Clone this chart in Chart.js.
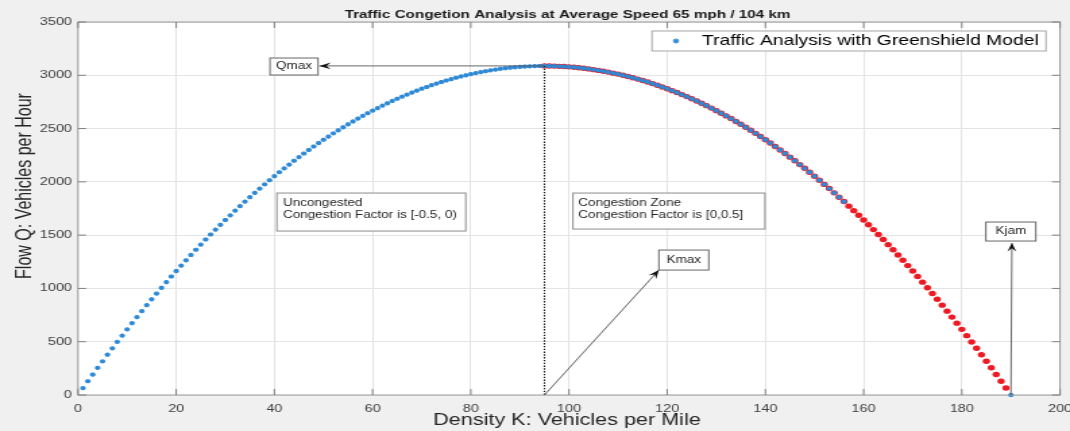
<!DOCTYPE html>
<html>
<head>
<meta charset="utf-8">
<title>Traffic Congetion Analysis</title>
<script src="https://cdn.jsdelivr.net/npm/chart.js@4.4.1/dist/chart.umd.min.js"></script>
<style>
  html, body { margin: 0; padding: 0; background: #f0f0f0; }
  #chart { display: block; }
</style>
</head>
<body>
<!-- the source figure was exported stretched sideways: draw narrow, widen with inline CSS -->
<canvas id="chart" width="793" height="431" style="width:1070px;height:431px;"></canvas>
<script>
// ============================================
// Data
// ============================================
const density = [
    1, 2, 3, 4, 5, 6, 7, 8, 9, 10, 11, 12, 13, 14, 15, 16, 17, 18, 19, 20,
    21, 22, 23, 24, 25, 26, 27, 28, 29, 30, 31, 32, 33, 34, 35, 36, 37, 38, 39, 40,
    41, 42, 43, 44, 45, 46, 47, 48, 49, 50, 51, 52, 53, 54, 55, 56, 57, 58, 59, 60,
    61, 62, 63, 64, 65, 66, 67, 68, 69, 70, 71, 72, 73, 74, 75, 76, 77, 78, 79, 80,
    81, 82, 83, 84, 85, 86, 87, 88, 89, 90, 91, 92, 93, 94, 95, 96, 97, 98, 99, 100,
    101, 102, 103, 104, 105, 106, 107, 108, 109, 110, 111, 112, 113, 114, 115, 116, 117, 118, 119, 120,
    121, 122, 123, 124, 125, 126, 127, 128, 129, 130, 131, 132, 133, 134, 135, 136, 137, 138, 139, 140,
    141, 142, 143, 144, 145, 146, 147, 148, 149, 150, 151, 152, 153, 154, 155, 156, 157, 158, 159, 160,
    161, 162, 163, 164, 165, 166, 167, 168, 169, 170, 171, 172, 173, 174, 175, 176, 177, 178, 179, 180,
    181, 182, 183, 184, 185, 186, 187, 188, 189, 190
];
const flow = [
    65, 129, 192, 255, 316, 378, 438, 498, 557, 616,
    674, 731, 787, 843, 898, 952, 1006, 1059, 1112, 1163,
    1214, 1264, 1314, 1363, 1411, 1459, 1506, 1552, 1597, 1642,
    1686, 1730, 1772, 1815, 1856, 1897, 1937, 1976, 2015, 2053,
    2090, 2127, 2162, 2198, 2232, 2266, 2299, 2332, 2364, 2395,
    2425, 2455, 2484, 2512, 2540, 2567, 2594, 2619, 2644, 2668,
    2692, 2715, 2737, 2759, 2780, 2800, 2819, 2838, 2856, 2874,
    2890, 2907, 2922, 2937, 2951, 2964, 2977, 2989, 3000, 3011,
    3020, 3030, 3038, 3046, 3053, 3060, 3066, 3071, 3075, 3079,
    3082, 3084, 3086, 3087, 3088, 3087, 3086, 3084, 3082, 3079,
    3075, 3071, 3066, 3060, 3053, 3046, 3038, 3030, 3020, 3011,
    3000, 2989, 2977, 2964, 2951, 2937, 2922, 2907, 2890, 2874,
    2856, 2838, 2819, 2800, 2780, 2759, 2737, 2715, 2692, 2668,
    2644, 2619, 2594, 2567, 2540, 2512, 2484, 2455, 2425, 2395,
    2364, 2332, 2299, 2266, 2232, 2198, 2162, 2127, 2090, 2053,
    2015, 1976, 1937, 1897, 1856, 1815, 1772, 1730, 1686, 1642,
    1597, 1552, 1506, 1459, 1411, 1363, 1314, 1264, 1214, 1163,
    1112, 1059, 1006, 952, 898, 843, 787, 731, 674, 616,
    557, 498, 438, 378, 316, 255, 192, 129, 65, 0
];
const xTicks = [0, 20, 40, 60, 80, 100, 120, 140, 160, 180, 200];
const yTicks = [0, 500, 1000, 1500, 2000, 2500, 3000, 3500];

const K_MAX = 95;        // density at max flow
const Q_MAX = 3088;      // max flow
const K_JAM = 190;       // jam density
const BLUE_LAST = 156;   // last blue marker on the congested side

// ============================================
// Style
// ============================================
const FONT = "'Liberation Sans', Arial, sans-serif";
const FIG_BG = "#f0f0f0";
const BLUE = "#2e8ad6";
const RED = "#ec1a22";
const GRID = "#e4e4e4";
const AXIS = "#9a9a9a";
const TEXT = "#262626";

const points = density.map((k, i) => ({ x: k, y: flow[i] }));
const bluePoints = points.filter(p => p.x <= BLUE_LAST || p.x === K_JAM);
const redPoints = points.filter(p => p.x >= K_MAX && p.x < K_JAM);

// ============================================
// Drawing helpers
// ============================================
function arrow(ctx, x0, y0, x1, y1) {
    ctx.save();
    ctx.strokeStyle = "#555555";
    ctx.lineWidth = 0.9;
    ctx.beginPath();
    ctx.moveTo(x0, y0);
    ctx.lineTo(x1, y1);
    ctx.stroke();

    // concave arrow head at (x1, y1)
    const ang = Math.atan2(y1 - y0, x1 - x0);
    const L = 8.5, W = 3.3;
    ctx.translate(x1, y1);
    ctx.rotate(ang);
    ctx.fillStyle = "#111111";
    ctx.beginPath();
    ctx.moveTo(0, 0);
    ctx.lineTo(-L, -W);
    ctx.lineTo(-L * 0.62, 0);
    ctx.lineTo(-L, W);
    ctx.closePath();
    ctx.fill();
    ctx.restore();
}

function textBox(ctx, x, y, w, h, lines, opts) {
    ctx.save();
    ctx.fillStyle = "#ffffff";
    ctx.fillRect(x, y, w, h);
    ctx.strokeStyle = opts.edge || "#8c8c8c";
    ctx.lineWidth = 1;
    ctx.strokeRect(x, y, w, h);
    ctx.fillStyle = TEXT;
    ctx.font = "10px " + FONT;
    ctx.textBaseline = "middle";
    if (opts.center) {
        ctx.textAlign = "center";
        ctx.fillText(lines[0], x + w / 2, y + h / 2);
    } else {
        ctx.textAlign = "left";
        lines.forEach((t, i) => ctx.fillText(t, x + opts.padX, y + opts.firstLine + i * opts.lineGap));
    }
    ctx.restore();
}

// ============================================
// Figure plugin: background, box, labels, annotations, legend
// ============================================
const figurePlugin = {
    id: "figure",
    beforeDraw(chart) {
        const { ctx, chartArea: a } = chart;
        ctx.save();
        ctx.fillStyle = FIG_BG;
        ctx.fillRect(0, 0, chart.width, chart.height);
        ctx.fillStyle = "#ffffff";
        ctx.fillRect(a.left, a.top, a.right - a.left, a.bottom - a.top);
        ctx.restore();
    },
    afterDatasetsDraw(chart) {
        // dotted line from Qmax down to the density axis
        const { ctx, scales: { x, y } } = chart;
        ctx.save();
        ctx.strokeStyle = "#1a1a1a";
        ctx.lineWidth = 1.2;
        ctx.setLineDash([1.4, 1.4]);
        ctx.beginPath();
        ctx.moveTo(x.getPixelForValue(K_MAX), y.getPixelForValue(Q_MAX));
        ctx.lineTo(x.getPixelForValue(K_MAX), y.getPixelForValue(0));
        ctx.stroke();
        ctx.restore();
    },
    afterDraw(chart) {
        const { ctx, chartArea: a, scales: { x, y } } = chart;
        const px = v => x.getPixelForValue(v);
        const py = v => y.getPixelForValue(v);

        // axes box + inward tick marks
        ctx.save();
        ctx.strokeStyle = AXIS;
        ctx.lineWidth = 1;
        ctx.strokeRect(a.left, a.top, a.right - a.left, a.bottom - a.top);
        ctx.strokeStyle = "#808080";
        ctx.beginPath();
        xTicks.forEach(v => {
            const xp = px(v);
            ctx.moveTo(xp, a.bottom); ctx.lineTo(xp, a.bottom - 6);
            ctx.moveTo(xp, a.top); ctx.lineTo(xp, a.top + 6);
        });
        yTicks.forEach(v => {
            const yp = py(v);
            ctx.moveTo(a.left, yp); ctx.lineTo(a.left + 6, yp);
            ctx.moveTo(a.right, yp); ctx.lineTo(a.right - 6, yp);
        });
        ctx.stroke();
        ctx.restore();

        // annotations
        const qBox = { x: px(39.1), y: py(3162), w: 35.6, h: 17 };
        arrow(ctx, px(K_MAX), py(Q_MAX), qBox.x + qBox.w + 1, py(Q_MAX));
        textBox(ctx, qBox.x, qBox.y, qBox.w, qBox.h, ["Qmax"], { center: true, edge: "#666666" });

        textBox(ctx, px(40.5), py(1895), 140, 38,
            ["Uncongested", "Congestion Factor is [-0.5, 0)"],
            { padX: 4.5, firstLine: 10, lineGap: 12 });
        textBox(ctx, px(100.8), py(1895), 142.3, 36,
            ["Congestion Zone", "Congestion Factor is [0,0.5]"],
            { padX: 4, firstLine: 10, lineGap: 12 });

        const kBox = { x: px(118.3), y: py(1360), w: 37, h: 20 };
        arrow(ctx, px(K_MAX), py(0), kBox.x, kBox.y + kBox.h);
        textBox(ctx, kBox.x, kBox.y, kBox.w, kBox.h, ["Kmax"], { center: true, edge: "#666666" });

        const jBox = { x: px(184.9), y: py(1623), w: 37, h: 19 };
        arrow(ctx, px(K_JAM), py(0), px(190.2), jBox.y + jBox.h + 2);
        textBox(ctx, jBox.x, jBox.y, jBox.w, jBox.h, ["Kjam"], { center: true, edge: "#666666" });

        // legend
        ctx.save();
        ctx.fillStyle = "#ffffff";
        ctx.fillRect(483.2, 31, 292, 20);
        ctx.strokeStyle = "#a6a6a6";
        ctx.lineWidth = 1;
        ctx.strokeRect(483.2, 31, 292, 20);
        ctx.strokeStyle = BLUE;
        ctx.fillStyle = BLUE;
        ctx.lineWidth = 1.2;
        Chart.helpers.drawPoint(ctx, { pointStyle: "star", radius: 2.4, rotation: 0, borderWidth: 1.2 }, 501, 41);
        ctx.fillStyle = "#000000";
        ctx.font = "14.3px " + FONT;
        ctx.textAlign = "left";
        ctx.textBaseline = "middle";
        ctx.fillText("Traffic Analysis with Greenshield Model", 520.3, 41.5);
        ctx.restore();

        // title and axis labels
        ctx.save();
        ctx.fillStyle = "#1a1a1a";
        ctx.textAlign = "center";
        ctx.textBaseline = "middle";
        ctx.font = "bold 11.3px " + FONT;
        ctx.fillText("Traffic Congetion Analysis at Average Speed 65 mph / 104 km", 420.6, 15);

        ctx.fillStyle = TEXT;
        ctx.font = "16px " + FONT;
        ctx.fillText("Density K: Vehicles per Mile", (a.left + a.right) / 2 - 1.5, 421);

        ctx.translate(18.5, 186);
        ctx.rotate(-Math.PI / 2);
        ctx.fillText("Flow Q: Vehicles per Hour", 0, 0);
        ctx.restore();
    }
};

// ============================================
// Chart
// ============================================
new Chart(document.getElementById("chart"), {
    type: "scatter",
    data: {
        datasets: [
            {
                data: bluePoints,
                pointStyle: "star",
                pointRadius: 2.1,
                pointBorderWidth: 1.3,
                borderColor: BLUE,
                backgroundColor: BLUE,
                clip: false,
            },
            {
                data: redPoints,
                pointStyle: "circle",
                pointRadius: 2.7,
                pointBorderWidth: 0,
                borderColor: RED,
                backgroundColor: RED,
                clip: false,
            },
        ],
    },
    options: {
        responsive: false,
        animation: false,
        devicePixelRatio: 1,
        layout: { padding: { top: 22, right: 7.4, left: 0, bottom: 0 } },
        plugins: {
            legend: { display: false },
            tooltip: { enabled: false },
            title: { display: false },
        },
        scales: {
            x: {
                type: "linear",
                min: 0,
                max: 200,
                afterBuildTicks: s => { s.ticks = xTicks.map(v => ({ value: v })); },
                afterFit: s => { s.height = 36; s.paddingLeft = 0; s.paddingRight = 0; },
                grid: { color: GRID, drawTicks: false },
                border: { display: false },
                ticks: {
                    font: { family: FONT, size: 10.7 },
                    color: "#404040",
                    padding: 8,
                    maxRotation: 0,
                    callback: v => String(v),
                },
            },
            y: {
                type: "linear",
                min: 0,
                max: 3500,
                afterBuildTicks: s => { s.ticks = yTicks.map(v => ({ value: v })); },
                afterFit: s => { s.width = 57.8; s.paddingTop = 0; s.paddingBottom = 0; },
                grid: { color: GRID, drawTicks: false },
                border: { display: false },
                ticks: {
                    font: { family: FONT, size: 10.7 },
                    color: "#404040",
                    padding: 4.5,
                    callback: v => String(v),
                },
            },
        },
    },
    plugins: [figurePlugin],
});
</script>
</body>
</html>
